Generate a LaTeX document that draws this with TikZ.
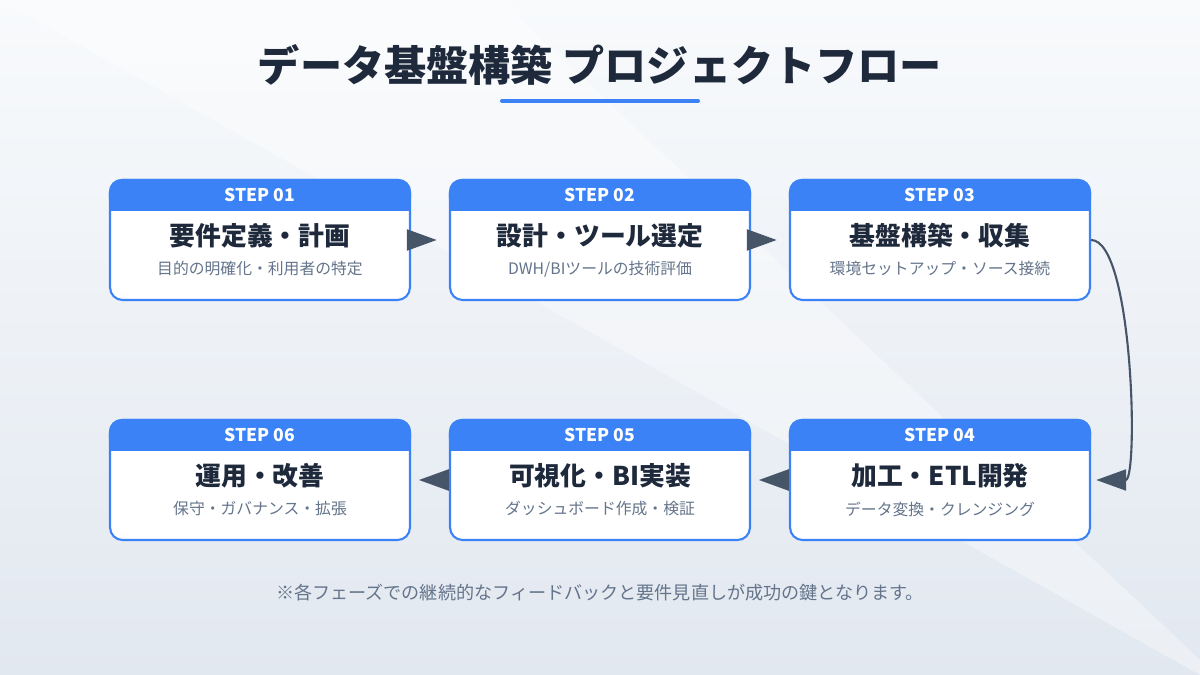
\documentclass[tikz,border=0pt]{standalone}
\usepackage{fontspec}
\setmainfont{Noto Sans CJK JP}
\usetikzlibrary{positioning, arrows.meta, calc}
\definecolor{stepblue}{HTML}{3B82F6}
\definecolor{darktext}{HTML}{1E293B}
\definecolor{graytext}{HTML}{64748B}
\definecolor{arrowgray}{HTML}{475569}
\definecolor{bgtop}{HTML}{F8FAFC}
\definecolor{bgbottom}{HTML}{E2E8F0}

\begin{document}
\begin{tikzpicture}[
    x=0.02cm, y=-0.02cm,
    % Styles
    stepbox/.style={
        rectangle,
        fill=white,
        draw=stepblue,
        line width=1.2pt,
        rounded corners=2.5mm,
        minimum width=6cm,
        minimum height=2.4cm
    },
    header/.style={
        font=\bfseries\fontsize{10}{12}\selectfont,
        text=white
    },
    steptitle/.style={
        font=\bfseries\fontsize{14.7}{17}\selectfont,
        text=darktext
    },
    stepsub/.style={
        font=\fontsize{9}{11}\selectfont,
        text=graytext
    },
    arrow/.style={
        -{Triangle[length=17pt, width=12pt]},
        line width=1.2pt,
        draw=arrowgray
    }
]
    % Background
    \shade[top color=bgtop, bottom color=bgbottom] (0,0) rectangle (1200,675);
    \fill[white, opacity=0.35] (0,0) -- (500,0) -- (1200,660) -- (1200,675) -- cycle;
    \useasboundingbox (0,0) rectangle (1200,675);

    % Title
    \node[font=\bfseries\fontsize{24}{28}\selectfont, text=darktext] (title) at (600,65) {データ基盤構築 プロジェクトフロー};
    \draw[stepblue, line width=2.3pt, line cap=round] (502,101) -- (698,101);

    % Steps
    \foreach \name/\x/\y/\num/\ttl/\sub in {
        s1/260/240/01/要件定義・計画/目的の明確化・利用者の特定,
        s2/600/240/02/設計・ツール選定/DWH\slash BIツールの技術評価,
        s3/940/240/03/基盤構築・収集/環境セットアップ・ソース接続,
        s4/940/480/04/加工・ETL開発/データ変換・クレンジング,
        s5/600/480/05/可視化・BI実装/ダッシュボード作成・検証,
        s6/260/480/06/運用・改善/保守・ガバナンス・拡張} {
        \node[stepbox] (\name) at (\x,\y) {};
        \fill[stepblue, rounded corners=2.5mm] (\name.north west) rectangle ($(\name.north east)+(0,32)$);
        \fill[stepblue] ($(\name.north west)+(0,16)$) rectangle ($(\name.north east)+(0,32)$);
        \node[header] at ($(\name.north)+(0,16)$) {STEP \num};
        \node[steptitle] at ($(\name.north)+(0,57)$) {\ttl};
        \node[stepsub] at ($(\name.north)+(0,90)$) {\sub};
    }

    % Connections
    \draw[arrow, shorten >=7pt] (s1.east) -- (s2.west);
    \draw[arrow, shorten >=7pt] (s2.east) -- (s3.west);
    \draw[arrow] (s3.east) to[out=0, in=0, looseness=0.45] ([xshift=3pt]s4.east);
    \draw[arrow] (s4.west) -- ([xshift=4.5pt]s5.east);
    \draw[arrow] (s5.west) -- ([xshift=4.5pt]s6.east);

    % Footer
    \node[font=\fontsize{10.3}{12}\selectfont, text=graytext] (note) at (600,593) {※各フェーズでの継続的なフィードバックと要件見直しが成功の鍵となります。};
\end{tikzpicture}
\end{document}
